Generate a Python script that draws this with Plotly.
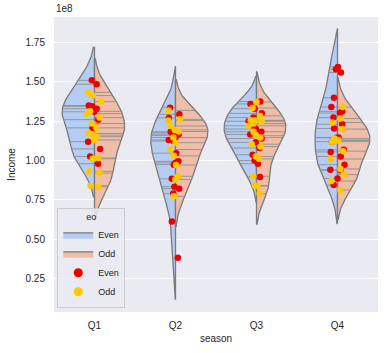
import numpy as np
import plotly.graph_objects as go

SCALE = 1e8
seasons = ["Q1", "Q2", "Q3", "Q4"]
hues = ["Even", "Odd"]

# Income values (in units of 1e8), per season and eo group
q1_even = [1.51, 1.485, 1.35, 1.345, 1.33, 1.31, 1.26, 1.208, 1.12, 1.074, 1.026, 0.98]
q1_odd = [1.434, 1.413, 1.375, 1.313, 1.298, 1.273, 1.235, 1.208, 1.173, 1.162, 1.152,
          1.131, 1.016, 1.012, 0.932, 0.92, 0.84, 0.834]
q2_even = [1.336, 1.294, 1.271, 1.183, 1.177, 1.168, 1.16, 1.147, 1.131, 1.124, 1.047,
           0.995, 0.985, 0.974, 0.884, 0.834, 0.821, 0.79, 0.612, 0.382]
q2_odd = [1.319, 1.262, 1.255, 1.22, 1.195, 1.185, 1.146, 1.114, 1.07, 1.03, 0.972,
          0.9, 0.88, 0.773]
q3_even = [1.375, 1.36, 1.33, 1.30, 1.273, 1.25, 1.221, 1.20, 1.183, 1.166, 1.14, 1.116,
           1.08, 1.037, 1.0, 0.98, 0.896]
q3_odd = [1.372, 1.334, 1.284, 1.256, 1.254, 1.25, 1.235, 1.221, 1.183, 1.158, 1.146,
          1.104, 1.089, 1.026, 1.011, 0.9, 0.842, 0.838, 0.79]
q4_even = [1.595, 1.581, 1.56, 1.399, 1.34, 1.313, 1.302, 1.273, 1.231, 1.204, 1.147,
           1.145, 1.12, 1.068, 1.055, 1.026, 0.974, 0.942, 0.938, 0.886, 0.844]
q4_odd = [1.34, 1.267, 1.242, 1.2, 1.141, 1.131, 1.128, 1.12, 1.06, 1.01, 0.947, 0.911,
          0.87, 0.813]

y_tick_vals = [0.25, 0.50, 0.75, 1.00, 1.25, 1.50, 1.75]

even_data = [q1_even, q2_even, q3_even, q4_even]
odd_data = [q1_odd, q2_odd, q3_odd, q4_odd]

violin_colors = {"Even": "#b5cdf5", "Odd": "#f0bea8"}
point_colors = {"Even": "#ee0000", "Odd": "#ffc800"}
edge = "#7a7a7a"
stick = "#8f8f8f"


def kde_setup(vals):
    v = np.asarray(vals, dtype=float) * SCALE
    n = len(v)
    bw = n ** (-1 / 5) * v.std(ddof=1)
    support = np.linspace(v.min() - 2 * bw, v.max() + 2 * bw, 100)

    def f(g):
        g = np.atleast_1d(g)
        return np.exp(-0.5 * ((g[:, None] - v[None, :]) / bw) ** 2).sum(1) / (n * bw * np.sqrt(2 * np.pi))

    return v, support, f


fig = go.Figure()

legend_done = set()
for i, s in enumerate(seasons):
    sets = {"Even": kde_setup(even_data[i]), "Odd": kde_setup(odd_data[i])}
    maxd = max(sets[h][2](sets[h][1]).max() for h in hues)
    scale = 0.4 / maxd
    for h in hues:
        v, support, f = sets[h]
        d = f(support) * scale
        sign = -1 if h == "Even" else 1
        xs = np.concatenate([[i], i + sign * d, [i], [i]])
        ys = np.concatenate([[support[0]], support, [support[-1]], [support[0]]])
        fig.add_trace(go.Scatter(
            x=xs, y=ys, mode="lines", fill="toself", fillcolor=violin_colors[h],
            line=dict(color=edge, width=1.3), name=h, legendgroup="v" + h,
            showlegend=(h not in legend_done), hoverinfo="skip"))
        legend_done.add(h)
        # sticks
        sx, sy = [], []
        dv = f(v) * scale
        for val, dd in zip(v, dv):
            sx += [i, i + sign * dd, None]
            sy += [val, val, None]
        fig.add_trace(go.Scatter(x=sx, y=sy, mode="lines", line=dict(color=stick, width=0.9),
                                 showlegend=False, hoverinfo="skip"))

# strip points (jitter handled by plotly) on an overlaid axis so they sit on top
for h, data in (("Even", even_data), ("Odd", odd_data)):
    xs, ys = [], []
    for i, vals in enumerate(data):
        xs += [i] * len(vals)
        ys += [x * SCALE for x in vals]
    fig.add_trace(go.Box(
        x=xs, y=ys, boxpoints="all", jitter=1, pointpos=0, width=0.2,
        fillcolor="rgba(0,0,0,0)", line=dict(width=0, color="rgba(0,0,0,0)"),
        marker=dict(color=point_colors[h], size=6.5, line=dict(width=0)),
        showlegend=False, hoverinfo="skip", orientation="v", xaxis="x2"))

for h in hues:
    fig.add_trace(go.Scatter(x=[None], y=[None], mode="markers", name=h,
                             marker=dict(color=point_colors[h], size=9)))

fig.update_layout(
    width=389, height=353,
    margin=dict(l=47, r=11, t=17, b=37),
    paper_bgcolor="white", plot_bgcolor="#eaeaf2",
    font=dict(family="Liberation Sans, Arial, sans-serif", size=10, color="#262626"),
    showlegend=True,
    legend=dict(
        x=0.01, y=0.015, xanchor="left", yanchor="bottom",
        bgcolor="rgba(234,234,242,0.85)", bordercolor="#cccccc", borderwidth=1,
        font=dict(size=9),
        title=dict(text="eo", side="top center", font=dict(size=9)),
        tracegroupgap=0, itemwidth=30,
    ),
    xaxis=dict(range=[-0.5, 3.5], tickvals=list(range(len(seasons))), ticktext=seasons,
               showgrid=False, zeroline=False, showline=False, ticks="",
               ticklabelstandoff=6,
               title=dict(text="season", standoff=4, font=dict(size=10))),
    xaxis2=dict(range=[-0.5, 3.5], overlaying="x", visible=False),
    yaxis=dict(range=[0.0375 * SCALE, 1.9125 * SCALE],
               tickvals=[t * SCALE for t in y_tick_vals],
               ticktext=[f"{t:.2f}" for t in y_tick_vals],
               showgrid=True, gridcolor="white", gridwidth=1, zeroline=False,
               showline=False, ticks="", ticklabelstandoff=8,
               title=dict(text="Income", standoff=8, font=dict(size=10))),
    annotations=[dict(text="1e8", x=0, y=1, xref="paper", yref="paper",
                      xanchor="left", yanchor="bottom", showarrow=False,
                      font=dict(size=10, color="#262626"), yshift=1)],
)

fig.write_html("out.html")
